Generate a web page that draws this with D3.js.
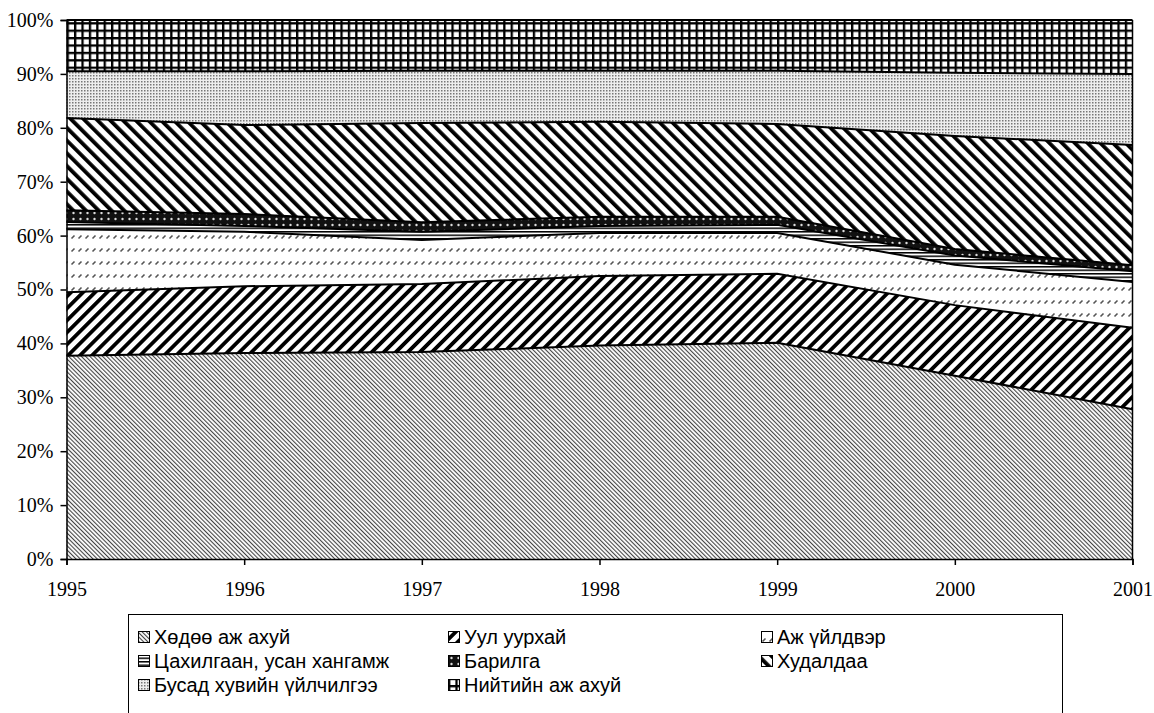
<!DOCTYPE html>
<html>
<head>
<meta charset="utf-8">
<script src="https://cdn.jsdelivr.net/npm/d3@7"></script>
<style>
body { margin: 0; background: #fff; }
svg { display: block; }
.axis text { font-family: "Liberation Serif", "Times New Roman", serif; font-size: 20px; fill: #000; }
.axis path, .axis line { stroke: #000; stroke-width: 1.5; }
.legend text { font-family: "Liberation Sans", Arial, sans-serif; font-size: 20px; fill: #000; }
</style>
</head>
<body>
<div id="chart"></div>
<script>
const w = 1154;
const h = 713;

// data, shares in % of GDP
const years = [1995, 1996, 1997, 1998, 1999, 2000, 2001];
const seriesNames = ["Хөдөө аж ахуй", "Уул уурхай", "Аж үйлдвэр", "Цахилгаан, усан хангамж",
  "Барилга", "Худалдаа", "Бусад хувийн үйлчилгээ", "Нийтийн аж ахуй"];
const agriculture  = [37.7, 38.2, 38.4, 39.6, 40.1, 34.0, 27.8];
const mining       = [11.8, 12.4, 12.6, 12.9, 12.8, 13.1, 15.1];
const manufacture  = [11.7, 10.1, 8.2, 8.0, 7.6, 7.5, 8.5];
const electricity  = [1.3, 1.1, 1.5, 1.3, 1.5, 1.7, 2.0];
const construction = [2.2, 2.2, 1.8, 1.7, 1.5, 1.2, 1.1];
const trade        = [17.1, 16.5, 18.4, 17.6, 17.2, 21.0, 22.3];
const otherService = [8.7, 10.0, 9.7, 9.5, 9.9, 11.7, 13.2];
const publicSector = [9.5, 9.5, 9.4, 9.4, 9.4, 9.8, 10.0];
const yTicks = [0, 10, 20, 30, 40, 50, 60, 70, 80, 90, 100];

const allSeries = [agriculture, mining, manufacture, electricity, construction, trade, otherService, publicSector];
const rows = years.map((yr, i) => {
  const r = {year: yr};
  seriesNames.forEach((k, j) => r[k] = allSeries[j][i]);
  return r;
});

const svg = d3.select("#chart").append("svg")
  .attr("width", w).attr("height", h);

//Patterns, one per sector (imitating excel fills)
const defs = svg.append("defs");
function stripes(id, size, thick, angle, color) {
  const p = defs.append("pattern").attr("id", id)
    .attr("patternUnits", "userSpaceOnUse")
    .attr("width", size).attr("height", size)
    .attr("patternTransform", `rotate(${angle})`);
  p.append("rect").attr("width", size).attr("height", size).attr("fill", "#fff");
  p.append("rect").attr("width", thick).attr("height", size).attr("fill", color);
}
stripes("p0", 3, 1.1, -45, "#444");
stripes("p1", 8.5, 3.8, 45, "#000");
stripes("p5", 9, 3.8, -45, "#000");

let p = defs.append("pattern").attr("id", "p2").attr("patternUnits", "userSpaceOnUse")
  .attr("width", 7).attr("height", 13);
p.append("rect").attr("width", 7).attr("height", 13).attr("fill", "#fff");
p.append("line").attr("x1", 1.5).attr("y1", 4.5).attr("x2", 4.5).attr("y2", 1.5)
  .attr("stroke", "#555").attr("stroke-width", 1.6);

p = defs.append("pattern").attr("id", "p3").attr("patternUnits", "userSpaceOnUse")
  .attr("width", 6).attr("height", 3.5);
p.append("rect").attr("width", 6).attr("height", 3.5).attr("fill", "#fff");
p.append("rect").attr("width", 6).attr("height", 1.5).attr("fill", "#000");

p = defs.append("pattern").attr("id", "p4").attr("patternUnits", "userSpaceOnUse")
  .attr("width", 7).attr("height", 6);
p.append("rect").attr("width", 7).attr("height", 6).attr("fill", "#111");
p.append("circle").attr("cx", 3.5).attr("cy", 3).attr("r", 1.2).attr("fill", "#ddd");

p = defs.append("pattern").attr("id", "p6").attr("patternUnits", "userSpaceOnUse")
  .attr("width", 3).attr("height", 3);
p.append("rect").attr("width", 3).attr("height", 3).attr("fill", "#eee");
p.append("rect").attr("width", 1.5).attr("height", 1.5).attr("fill", "#777");

p = defs.append("pattern").attr("id", "p7").attr("patternUnits", "userSpaceOnUse")
  .attr("width", 7.4).attr("height", 7.4);
p.append("rect").attr("width", 7.4).attr("height", 7.4).attr("fill", "#000");
p.append("rect").attr("x", 2.3).attr("y", 2.3).attr("width", 5.1).attr("height", 5.1).attr("fill", "#fff");

//Scales
const xScale = d3.scaleLinear().domain([1995, 2001]).range([66.5, 1132.5]);
const yScale = d3.scaleLinear().domain([0, 100]).range([559, 20]);

const stack = d3.stack().keys(seriesNames);
const layers = stack(rows);

const area = d3.area()
  .x(d => xScale(d.data.year))
  .y0(d => yScale(d[0]))
  .y1(d => yScale(d[1]));
const topLine = d3.line()
  .x(d => xScale(d.data.year))
  .y(d => yScale(d[1]));

svg.append("g").selectAll("path")
  .data(layers).enter().append("path")
  .attr("d", area)
  .attr("fill", (d, i) => `url(#p${i})`);

svg.append("g").selectAll("path")
  .data(layers).enter().append("path")
  .attr("d", topLine)
  .attr("fill", "none")
  .attr("stroke", "#000")
  .attr("stroke-width", 2);

//right border of plot
svg.append("line")
  .attr("x1", xScale(2001)).attr("x2", xScale(2001))
  .attr("y1", yScale(0)).attr("y2", yScale(100))
  .attr("stroke", "#000").attr("stroke-width", 1.5);

//Axes
const yAxis = d3.axisLeft(yScale).tickValues(yTicks)
  .tickFormat(d => d + "%").tickSize(6).tickPadding(7);
svg.append("g").attr("class", "axis")
  .attr("transform", `translate(${xScale(1995)},0)`)
  .call(yAxis);

const xAxis = d3.axisBottom(xScale).tickValues(years)
  .tickFormat(d3.format("d")).tickSize(6).tickPadding(17);
svg.append("g").attr("class", "axis")
  .attr("transform", `translate(0,${yScale(0)})`)
  .call(xAxis);

//Legend
const legend = svg.append("g").attr("class", "legend");
legend.append("rect")
  .attr("x", 128.5).attr("y", 614.5).attr("width", 934).attr("height", 120)
  .attr("fill", "#fff").attr("stroke", "#000").attr("stroke-width", 1);
const colX = [138, 448, 761];
const rowY = [637, 661, 685];
seriesNames.forEach((name, i) => {
  const g = legend.append("g")
    .attr("transform", `translate(${colX[i % 3]},${rowY[Math.floor(i / 3)]})`);
  g.append("rect").attr("x", 0.5).attr("y", -5.5).attr("width", 11).attr("height", 11)
    .attr("fill", `url(#p${i})`).attr("stroke", "#000");
  g.append("text").attr("x", 16).attr("y", 0).attr("dy", "0.35em").text(name);
});
</script>
</body>
</html>
